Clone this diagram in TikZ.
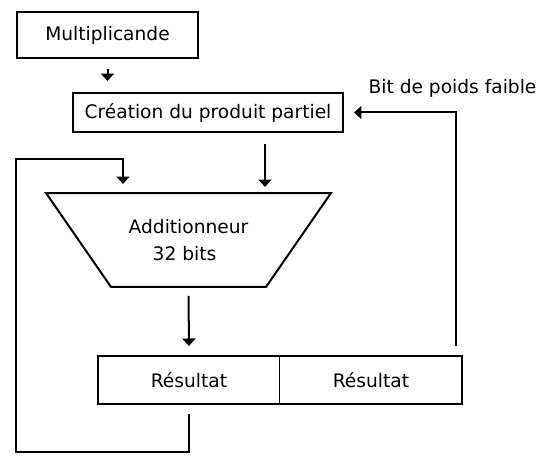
\documentclass[tikz,border=0pt]{standalone}
\usepackage{fontspec}
\setmainfont{DejaVu Sans}
\usetikzlibrary{arrows.meta,positioning}

\begin{document}
\begin{tikzpicture}[
  x = 0.02cm, y = -0.02cm,
  > = {Triangle[width=0.26cm,length=0.15cm]},
  line width = 1.14pt,
  font = \fontsize{10.6}{15.3}\selectfont,
  box/.style = {rectangle, draw, inner sep=0pt},
  cell/.style = {rectangle, inner sep=0pt, minimum width=3.6cm, minimum height=0.92cm}
]
\useasboundingbox (0,0) rectangle (550,465);

\node[box, minimum width=3.62cm, minimum height=0.92cm] (mult) at (107.5,35) {Multiplicande};
\node[box, minimum width=5.4cm, minimum height=0.78cm] (crea) at (208,112.5) {Création du produit partiel};

% adder: text node, outline drawn as a trapezium around it
\node[inner sep=0pt, minimum width=5.66cm, minimum height=1.84cm, align=center] (adder) at (188.5,240)
  {Additionneur\\32 bits\hspace*{0.16cm}};
\draw (adder.north west) -- (adder.north east) -- ([xshift=-1.3cm]adder.south east)
  -- ([xshift=1.3cm]adder.south west) -- cycle;

\node[cell] (res1) at (189,380) {Résultat};
\node[cell, right=0pt of res1] (res2) {Résultat};
\draw (res1.north west) rectangle (res2.south east);
\draw[line width=0.57pt] (res1.north east) -- (res1.south east);

\node (lsb) at (452.5,88) {Bit de poids faible};

% entry points on top of the adder
\coordinate (inA) at (123,194);
\coordinate (inB) at (265,194);

\draw[->, shorten <=0.2cm, shorten >=0.22cm] (mult.south) -- (mult.south |- crea.north);
\draw[->, shorten <=0.22cm, shorten >=0.14cm] (crea.south -| inB) -- (inB);
\draw[->, shorten <=0.18cm, shorten >=0.2cm] (adder.south) -- (res1.north);
\draw[->, shorten <=0.2cm, shorten >=0.2cm] (res1.south) -- ++(0,48) -| (16,159) -| (inA);
\draw[->, shorten <=0.2cm, shorten >=0.2cm] ([xshift=-0.12cm]res2.north east) |- (crea.east);
\end{tikzpicture}
\end{document}
